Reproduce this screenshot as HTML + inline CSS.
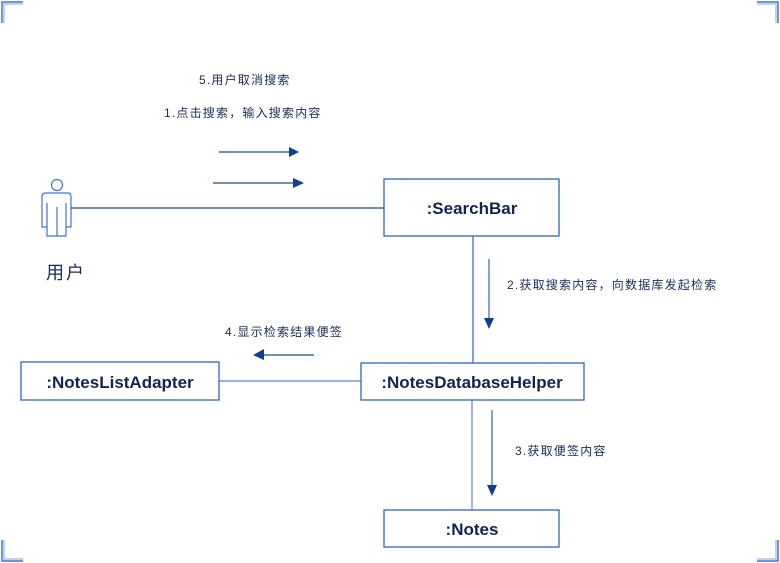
<!DOCTYPE html>
<html><head><meta charset="utf-8"><style>
html,body{margin:0;padding:0;background:#fff;}
svg{display:block;}
text{font-family:"Liberation Sans","Noto Sans CJK SC",sans-serif;}
</style></head><body>
<svg width="780" height="563" viewBox="0 0 780 563" xmlns="http://www.w3.org/2000/svg">
<g fill="none" stroke="#3f74d6" stroke-width="1.5">
<path d="M2 23 V2 H23" /><path d="M4 23 V4 H23" stroke="#a9c3f0"/>
<path d="M757 2 H778 V23"/><path d="M757 4 H776 V23" stroke="#a9c3f0"/>
<path d="M2 540 V561 H23"/><path d="M4 540 V559 H23" stroke="#a9c3f0"/>
<path d="M778 540 V561 H757"/><path d="M776 540 V559 H757" stroke="#a9c3f0"/>
</g>
<!-- actor -->
<g fill="none" stroke="#3f74d6" stroke-width="1.2">
<circle cx="57" cy="185" r="5.5"/>
<path d="M46 193 H68 Q71 193 71 197 V227 H66 V236 H47 V227 H42 V197 Q42 193 46 193 Z"/>
<path d="M47 203 V227 M66 203 V227 M57 207 V236"/>
</g>
<text x="46" y="279" font-size="18" letter-spacing="2" fill="#1a2a5a">用户</text>
<!-- connectors -->
<g stroke="#1f4a94" stroke-width="1.3" fill="none">
<line x1="71" y1="208" x2="384" y2="208"/>
<line x1="473" y1="236" x2="473" y2="363" stroke="#3f6fc0"/>
<line x1="472" y1="400" x2="472" y2="510" stroke="#6d8fcf"/>
<line x1="219" y1="381" x2="361" y2="381" stroke="#5d82c8"/>
<line x1="219" y1="152" x2="290" y2="152"/>
<line x1="213" y1="183" x2="294" y2="183"/>
<line x1="489" y1="259" x2="489" y2="320" stroke="#3f6fc0"/>
<line x1="492" y1="410" x2="492" y2="486" stroke="#3f6fc0"/>
<line x1="314" y1="355" x2="262" y2="355"/>
</g>
<g fill="#123f8c">
<path d="M289 147 L299 152 L289 157 Z"/>
<path d="M293 178 L304 183 L293 188 Z"/>
<path d="M484 318 L494 318 L489 329 Z"/>
<path d="M487 485 L497 485 L492 496 Z"/>
<path d="M264 349 L253 355 L264 360 Z"/>
</g>
<!-- boxes -->
<g fill="#fff" stroke="#2f63c4" stroke-width="1.3">
<rect x="384" y="179" width="175" height="57"/>
<rect x="361" y="363" width="223" height="37"/>
<rect x="21" y="362" width="198" height="38"/>
<rect x="384" y="510" width="175" height="37"/>
</g>
<g font-size="17" font-weight="bold" fill="#13244f" text-anchor="middle">
<text x="472" y="214">:SearchBar</text>
<text x="472" y="388">:NotesDatabaseHelper</text>
<text x="120" y="388">:NotesListAdapter</text>
<text x="472" y="535">:Notes</text>
</g>
<g font-size="12" fill="#1a2a5a" letter-spacing="1.2">
<text x="199" y="84">5.用户取消搜索</text>
<text x="164" y="117">1.点击搜索，输入搜索内容</text>
<text x="507" y="289">2.获取搜索内容，向数据库发起检索</text>
<text x="225" y="336">4.显示检索结果便签</text>
<text x="515" y="455">3.获取便签内容</text>
</g>
</svg>
</body></html>
